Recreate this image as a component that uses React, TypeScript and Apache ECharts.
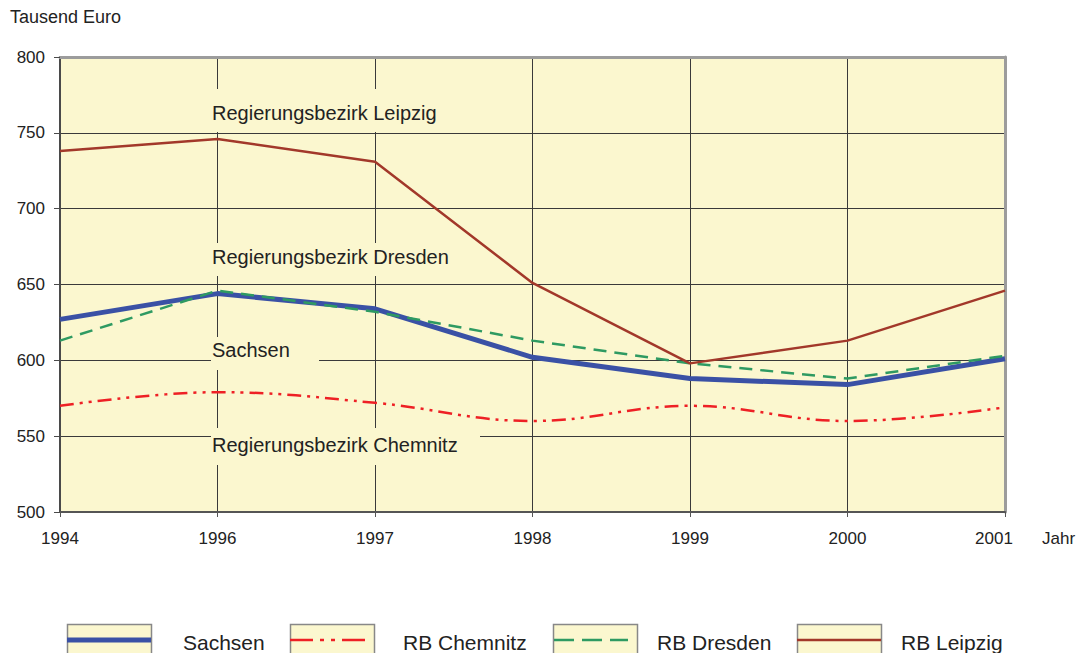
import React, { useEffect, useRef } from "react";
import * as echarts from "echarts";

const years = ["1994", "1996", "1997", "1998", "1999", "2000", "2001"];
const sachsen = [627, 644, 634, 602, 588, 584, 601];
const chemnitz = [570, 579, 572, 560, 570, 560, 569];
const dresden = [613, 646, 632, 613, 598, 588, 603];
const leipzig = [738, 746, 731, 651, 598, 613, 646];

const yMin = 500;
const yMax = 800;
const yStep = 50;

const unitLabel = "Tausend Euro";
const xName = "Jahr";
const annotations = [
  { text: "Regierungsbezirk Leipzig", y: 113, top: 89, h: 43, w: 250 },
  { text: "Regierungsbezirk Dresden", y: 257, top: 243, h: 33, w: 262 },
  { text: "Sachsen", y: 350, top: 337, h: 33, w: 108 },
  { text: "Regierungsbezirk Chemnitz", y: 445, top: 428, h: 37, w: 269 },
];

const C_SACHSEN = "#3A51A5";
const C_CHEMNITZ = "#EE2025";
const C_DRESDEN = "#2E9A62";
const C_LEIPZIG = "#A2382A";
const BG = "#FBF7CF";
const TXT = "#222222";
const FONT = "Liberation Sans, Arial, sans-serif";

const legendItems = [
  { name: "Sachsen", color: C_SACHSEN, width: 5, dash: null as number[] | null, bx: 67, tx: 183, x1: 67, x2: 151 },
  { name: "RB Chemnitz", color: C_CHEMNITZ, width: 2.5, dash: [23, 7, 4, 7, 4, 7], bx: 290, tx: 403, x1: 290, x2: 371 },
  { name: "RB Dresden", color: C_DRESDEN, width: 2.5, dash: [20, 8], bx: 553, tx: 657, x1: 554, x2: 628 },
  { name: "RB Leipzig", color: C_LEIPZIG, width: 2.5, dash: null as number[] | null, bx: 797, tx: 901, x1: 797, x2: 881 },
];

export default function App() {
  const ref = useRef<HTMLDivElement>(null);

  useEffect(() => {
    if (!ref.current) return;
    const chart = echarts.init(ref.current, undefined, { renderer: "svg" });

    const graphic: any[] = [];
    annotations.forEach((a) => {
      graphic.push({
        type: "rect",
        z: 1,
        shape: { x: 211, y: a.top, width: a.w, height: a.h },
        style: { fill: BG },
        silent: true,
      });
      graphic.push({
        type: "text",
        z: 1,
        x: 212,
        y: a.y,
        style: {
          text: a.text,
          fill: TXT,
          font: `20px ${FONT}`,
          textVerticalAlign: "middle",
          textAlign: "left",
        },
        silent: true,
      });
    });
    graphic.push({
      type: "text",
      x: 10,
      y: 17,
      style: { text: unitLabel, fill: TXT, font: `18px ${FONT}`, textVerticalAlign: "middle" },
    });
    graphic.push({
      type: "text",
      x: 1042,
      y: 538,
      style: { text: xName, fill: TXT, font: `17px ${FONT}`, textVerticalAlign: "middle" },
    });
    legendItems.forEach((l) => {
      graphic.push({
        type: "rect",
        shape: { x: l.bx + 0.5, y: 624.5, width: 84, height: 40 },
        style: { fill: BG, stroke: "#888", lineWidth: 1.5 },
      });
      graphic.push({
        type: "line",
        shape: { x1: l.x1, y1: 640, x2: l.x2, y2: 640 },
        style: { stroke: l.color, lineWidth: l.width, lineDash: l.dash || undefined },
      });
      graphic.push({
        type: "text",
        x: l.tx,
        y: 642,
        style: { text: l.name, fill: TXT, font: `21px ${FONT}`, textVerticalAlign: "middle" },
      });
    });

    const option: any = {
      animation: false,
      backgroundColor: "#ffffff",
      grid: {
        left: 60,
        right: 74,
        top: 57,
        bottom: 141,
        show: true,
        backgroundColor: BG,
        borderWidth: 0,
      },
      xAxis: [
        {
          type: "category",
          data: years,
          boundaryGap: false,
          position: "bottom",
          axisLine: { lineStyle: { color: "#555", width: 2 } },
          axisTick: { show: true, length: 5, lineStyle: { color: "#555" } },
          axisLabel: {
            color: TXT,
            fontSize: 17,
            fontFamily: FONT,
            margin: 18,
            formatter: (v: string, i: number) => (i === years.length - 1 ? `{last|${v}}` : v),
            rich: {
              last: { color: TXT, fontSize: 17, fontFamily: FONT, padding: [0, 22, 0, 0] },
            },
          },
          splitLine: { show: true, lineStyle: { color: "#3a3a3a", width: 1 } },
          z: 0,
        },
        {
          type: "category",
          data: years,
          boundaryGap: false,
          position: "top",
          axisLine: { lineStyle: { color: "#9c9c9c", width: 3 } },
          axisTick: { show: false },
          axisLabel: { show: false },
          splitLine: { show: false },
        },
      ],
      yAxis: [
        {
          type: "value",
          min: yMin,
          max: yMax,
          interval: yStep,
          position: "left",
          axisLine: { show: true, lineStyle: { color: "#4a4a4a", width: 2 } },
          axisTick: { show: true, length: 6, lineStyle: { color: "#4a4a4a" } },
          axisLabel: { color: TXT, fontSize: 17, fontFamily: FONT, margin: 15 },
          splitLine: { show: true, lineStyle: { color: "#3a3a3a", width: 1 } },
          z: 0,
        },
        {
          type: "value",
          min: yMin,
          max: yMax,
          interval: yStep,
          position: "right",
          axisLine: { show: true, lineStyle: { color: "#9c9c9c", width: 3 } },
          axisTick: { show: false },
          axisLabel: { show: false },
          splitLine: { show: false },
        },
      ],
      graphic,
      series: [
        {
          name: "Sachsen",
          type: "line",
          data: sachsen,
          symbol: "none",
          lineStyle: { color: C_SACHSEN, width: 5 },
          z: 2,
        },
        {
          name: "RB Chemnitz",
          type: "line",
          data: chemnitz,
          symbol: "none",
          smooth: 0.4,
          lineStyle: { color: C_CHEMNITZ, width: 2.5, type: [14, 6, 3, 6, 3, 6] },
          z: 3,
        },
        {
          name: "RB Dresden",
          type: "line",
          data: dresden,
          symbol: "none",
          lineStyle: { color: C_DRESDEN, width: 2.5, type: [13, 8] },
          z: 4,
        },
        {
          name: "RB Leipzig",
          type: "line",
          data: leipzig,
          symbol: "none",
          lineStyle: { color: C_LEIPZIG, width: 2.5 },
          z: 5,
        },
      ],
    };
    chart.setOption(option);
    return () => chart.dispose();
  }, []);

  return <div ref={ref} style={{ width: 1079, height: 653, position: "absolute", left: 0, top: 0 }} />;
}
